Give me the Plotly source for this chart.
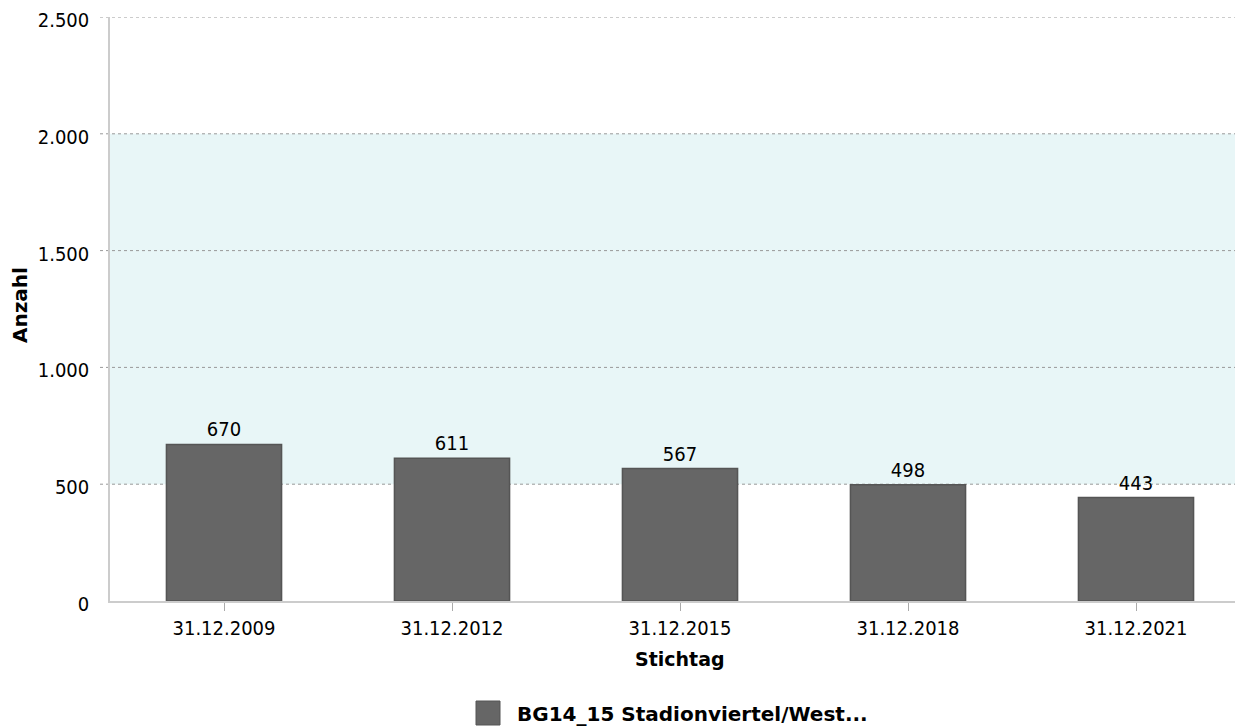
import plotly.graph_objects as go

categories = ["31.12.2009", "31.12.2012", "31.12.2015", "31.12.2018", "31.12.2021"]
values = [670, 611, 567, 498, 443]
value_labels = ["670", "611", "567", "498", "443"]
y_ticks = [0, 500, 1000, 1500, 2000, 2500]
y_tick_labels = ["0", "500", "1.000", "1.500", "2.000", "2.500"]
series_name = "BG14_15 Stadionviertel/West..."
band = (500, 2000)

FONT = "DejaVu Sans Condensed, DejaVu Sans"
BOLD = "DejaVu Sans"
FS = 20
# page body has an 8px margin; work in page pixels and offset
OFF = 8
W, H = 1243 - OFF, 728 - OFF
L, T = 110 - OFF, 17 - OFF
pw = W - L
ph = (601 - OFF) - T
B = H - T - ph


def px_x(x):
    return (x - OFF - L) / pw


def px_y(y):
    return (T + ph - (y - OFF)) / ph


fig = go.Figure()
fig.add_trace(go.Bar(
    x=list(range(len(categories))), y=values,
    text=value_labels, textposition="outside",
    textfont=dict(family=FONT, size=FS, color="#000"),
    marker=dict(color="#666666", line=dict(color="#555555", width=1.5)),
    width=0.505, cliponaxis=False, showlegend=False, name=series_name,
))

shapes = [dict(type="rect", xref="paper", yref="y", x0=0, x1=1, y0=band[0], y1=band[1],
               fillcolor="#e8f6f7", line=dict(width=0), layer="below")]
for t in y_ticks[1:]:
    shapes.append(dict(type="line", xref="paper", yref="y", x0=-10 / pw, x1=1, y0=t, y1=t,
                       line=dict(color="#999999", width=1, dash="dot"), layer="below"))
# legend swatch
shapes.append(dict(type="rect", xref="paper", yref="paper", x0=px_x(476), x1=px_x(500),
                   y0=px_y(725), y1=px_y(701),
                   fillcolor="#666666", line=dict(color="#555555", width=1)))

annotations = [
    dict(text="<b>Anzahl</b>", xref="paper", yref="paper", x=px_x(20), y=px_y(305),
         textangle=-90, showarrow=False, font=dict(family=BOLD, size=20, color="#000"),
         xanchor="center", yanchor="middle"),
    dict(text="<b>Stichtag</b>", xref="paper", yref="paper", x=px_x(680), y=px_y(659),
         showarrow=False, font=dict(family=BOLD, size=19, color="#000"),
         xanchor="center", yanchor="middle"),
    dict(text="<b>" + series_name + "</b>", xref="paper", yref="paper", x=px_x(515),
         y=px_y(714), showarrow=False, font=dict(family=BOLD, size=20, color="#000"),
         xanchor="left", yanchor="middle"),
]

fig.update_layout(
    width=W, height=H,
    margin=dict(l=L, r=0, t=T, b=B, pad=0),
    paper_bgcolor="white", plot_bgcolor="rgba(0,0,0,0)",
    font=dict(family=FONT, size=FS, color="#000"),
    shapes=shapes, annotations=annotations,
    xaxis=dict(
        range=[-0.5, -0.5 + pw / 228.0],
        tickmode="array", tickvals=list(range(len(categories))), ticktext=categories,
        showgrid=False, zeroline=False,
        showline=True, linecolor="#cccccc", linewidth=1.5,
        ticks="outside", ticklen=8, tickcolor="#aaaaaa", tickwidth=1,
        tickfont=dict(family=FONT, size=FS, color="#000"),
        automargin=False,
    ),
    yaxis=dict(
        range=[0, 2500],
        tickmode="array", tickvals=y_ticks, ticktext=y_tick_labels,
        showgrid=False, zeroline=False,
        showline=True, linecolor="#cccccc", linewidth=1.5,
        ticks="outside", ticklen=15, tickcolor="rgba(0,0,0,0)",
        tickfont=dict(family=FONT, size=FS, color="#000"),
        ticklabeloverflow="allow", ticklabelshift=3,
        automargin=False,
    ),
)

fig.write_html("out.html")
